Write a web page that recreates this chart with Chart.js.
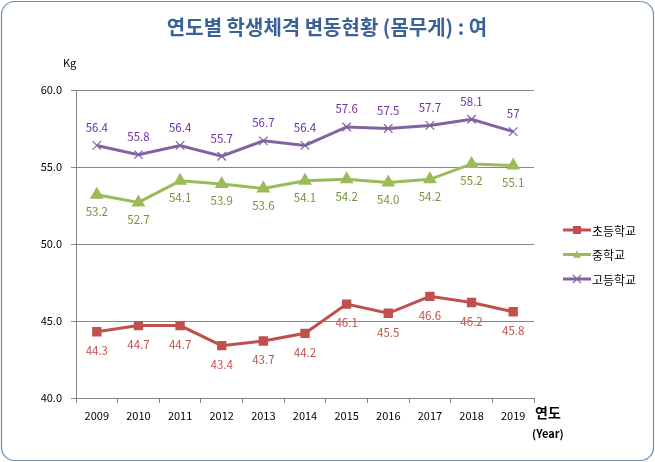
<!DOCTYPE html>
<html>
<head>
<meta charset="utf-8">
<script src="https://cdn.jsdelivr.net/npm/chart.js@4"></script>
<style>
  html, body { margin: 0; padding: 0; background: #fff; }
  #wrap { width: 655px; height: 462px; position: relative; }
</style>
</head>
<body>
<div id="wrap"><canvas id="chart" width="655" height="462"></canvas></div>
<script>
// Data
const years = ['2009', '2010', '2011', '2012', '2013', '2014', '2015', '2016', '2017', '2018', '2019'];
const elementary = [44.3, 44.7, 44.7, 43.4, 43.7, 44.2, 46.1, 45.5, 46.6, 46.2, 45.6];
const middle = [53.2, 52.7, 54.1, 53.9, 53.6, 54.1, 54.2, 54.0, 54.2, 55.2, 55.1];
const high = [56.4, 55.8, 56.4, 55.7, 56.7, 56.4, 57.6, 57.5, 57.7, 58.1, 57.3];
// label texts as printed on the chart
const elementaryLabels = ['44.3', '44.7', '44.7', '43.4', '43.7', '44.2', '46.1', '45.5', '46.6', '46.2', '45.8'];
const middleLabels = ['53.2', '52.7', '54.1', '53.9', '53.6', '54.1', '54.2', '54.0', '54.2', '55.2', '55.1'];
const highLabels = ['56.4', '55.8', '56.4', '55.7', '56.7', '56.4', '57.6', '57.5', '57.7', '58.1', '57'];
const yTicks = [40, 45, 50, 55, 60];

const FONT = "'Malgun Gothic', 'Noto Sans CJK KR', 'DejaVu Sans', sans-serif";

// Draws the frame, title, axis captions, legend and the value labels
const decorPlugin = {
    id: 'decor',
    beforeDraw(chart) {
        const ctx = chart.ctx;
        ctx.save();
        ctx.fillStyle = '#ffffff';
        ctx.fillRect(0, 0, chart.width, chart.height);
        ctx.beginPath();
        ctx.roundRect(1.5, 1.5, chart.width - 3, chart.height - 3, 13);
        ctx.strokeStyle = '#6d8ebf';
        ctx.lineWidth = 1.2;
        ctx.stroke();
        ctx.restore();
    },
    afterDraw(chart) {
        const ctx = chart.ctx;
        ctx.save();

        // title
        ctx.fillStyle = '#3b6296';
        ctx.font = "bold 20px " + FONT;
        ctx.textAlign = 'center';
        ctx.textBaseline = 'middle';
        ctx.fillText('연도별 학생체격 변동현황 (몸무게) : 여', 327, 27);

        // axis captions
        ctx.fillStyle = '#000';
        ctx.font = "11px " + FONT;
        ctx.textAlign = 'left';
        ctx.fillText('Kg', 63, 63);
        ctx.font = "bold 14px " + FONT;
        ctx.fillText('연도', 535, 413);
        ctx.font = "bold 11px " + FONT;
        ctx.fillText('(Year)', 532, 434);

        // value labels
        ctx.font = "11.5px " + FONT;
        ctx.textAlign = 'center';
        chart.data.datasets.forEach((ds, i) => {
            const meta = chart.getDatasetMeta(i);
            ctx.fillStyle = ds.labelColor;
            meta.data.forEach((pt, j) => {
                ctx.fillText(ds.labels[j], pt.x, pt.y + ds.labelOffset);
            });
        });

        // legend
        const lx = 563, ly0 = 230, step = 24.5;
        chart.data.datasets.forEach((ds, i) => {
            const y = ly0 + i * step;
            ctx.strokeStyle = ds.borderColor;
            ctx.lineWidth = 3;
            ctx.beginPath();
            ctx.moveTo(lx, y);
            ctx.lineTo(lx + 28, y);
            ctx.stroke();
            drawMarker(ctx, ds.pointStyle, lx + 14, y, 4, ds.borderColor);
            ctx.fillStyle = '#000';
            ctx.font = "12px " + FONT;
            ctx.textAlign = 'left';
            ctx.fillText(ds.label, lx + 29, y + 1);
        });
        ctx.restore();
    }
};

function drawMarker(ctx, style, x, y, r, color) {
    ctx.save();
    ctx.fillStyle = color;
    ctx.strokeStyle = color;
    ctx.lineWidth = 1.2;
    if (style === 'rect') {
        ctx.fillRect(x - r, y - r, 2 * r, 2 * r);
    } else if (style === 'triangle') {
        ctx.beginPath();
        ctx.moveTo(x, y - r);
        ctx.lineTo(x + r, y + r * 0.8);
        ctx.lineTo(x - r, y + r * 0.8);
        ctx.closePath();
        ctx.fill();
    } else {
        ctx.beginPath();
        ctx.moveTo(x - r, y - r); ctx.lineTo(x + r, y + r);
        ctx.moveTo(x + r, y - r); ctx.lineTo(x - r, y + r);
        ctx.stroke();
    }
    ctx.restore();
}

const chartCtx = document.getElementById('chart').getContext('2d');

new Chart(chartCtx, {
    type: 'line',
    data: {
        labels: years,
        datasets: [{
            label: '초등학교',
            data: elementary,
            labels: elementaryLabels,
            borderColor: '#c0504d',
            backgroundColor: '#c0504d',
            labelColor: '#c0504d',
            labelOffset: 19,
            pointStyle: 'rect',
            pointRadius: 4.5,
            borderWidth: 3
        }, {
            label: '중학교',
            data: middle,
            labels: middleLabels,
            borderColor: '#9bbb59',
            backgroundColor: '#9bbb59',
            labelColor: '#76923c',
            labelOffset: 17,
            pointStyle: 'triangle',
            pointRadius: 5,
            borderWidth: 3
        }, {
            label: '고등학교',
            data: high,
            labels: highLabels,
            borderColor: '#8064a2',
            backgroundColor: '#8064a2',
            labelColor: '#7030a0',
            labelOffset: -18,
            pointStyle: 'cross',
            pointRotation: 45,
            pointRadius: 6,
            pointBorderWidth: 1.2,
            borderWidth: 3
        }]
    },
    options: {
        responsive: false,
        animation: false,
        layout: {
            padding: { left: 26, right: 121, top: 90, bottom: 34 }
        },
        plugins: {
            legend: { display: false },
            tooltip: { enabled: false },
            title: { display: false }
        },
        scales: {
            x: {
                offset: true,
                afterFit(scale) { scale.height = 30; },
                grid: {
                    display: true,
                    drawOnChartArea: false,
                    offset: true,
                    color: '#868686',
                    tickLength: 5
                },
                border: { color: '#868686' },
                ticks: {
                    color: '#000',
                    font: { size: 11, family: FONT },
                    padding: 6,
                    maxRotation: 0
                }
            },
            y: {
                min: 40,
                max: 60,
                afterFit(scale) { scale.width = 50; },
                afterBuildTicks(scale) {
                    scale.ticks = yTicks.map(v => ({ value: v }));
                },
                grid: {
                    color: '#868686',
                    tickLength: 5
                },
                border: { color: '#868686' },
                ticks: {
                    color: '#000',
                    font: { size: 11, family: FONT },
                    padding: 9,
                    callback: v => v.toFixed(1)
                }
            }
        }
    },
    plugins: [decorPlugin]
});
</script>
</body>
</html>
